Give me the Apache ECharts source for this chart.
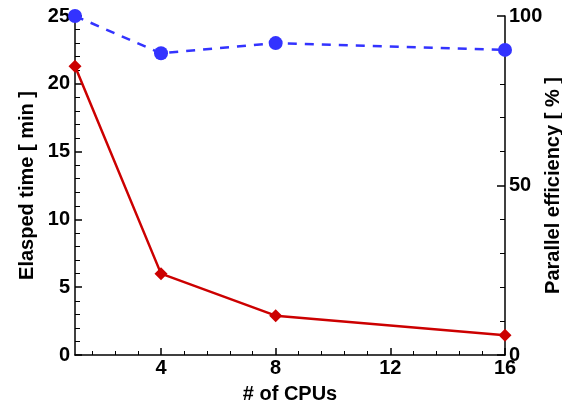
<!DOCTYPE html>
<html>
<head>
<meta charset="utf-8">
<script src="https://cdn.jsdelivr.net/npm/echarts@6/dist/echarts.min.js"></script>
<style>
  html, body { margin: 0; padding: 0; background: #fff; }
  #chart { width: 562px; height: 408px; }
</style>
</head>
<body>
<div id="chart"></div>
<script>
// data
var cpus = [1, 4, 8, 16]
var elapsedMin = [21.3, 6.0, 2.9, 1.45]
var efficiency = [100, 89, 92, 90]
var xTicks = [4, 8, 12, 16]
var xMinorTicks = [1.6, 2.4, 3.2, 4.8, 5.6, 6.4, 7.2, 8.8, 9.6, 10.4, 11.2, 12.8, 13.6, 14.4, 15.2]

var font = 'Liberation Sans'
var axisLine = { show: true, lineStyle: { color: '#000', width: 1.5 } }
var labelStyle = { color: '#000', fontFamily: font, fontWeight: 'bold', fontSize: 20 }
var nameStyle = { color: '#000', fontFamily: font, fontWeight: 'bold', fontSize: 20 }

var chart = echarts.init(document.getElementById('chart'))
chart.setOption({
  animation: false,
  grid: {
    left: 75,
    right: 57,
    top: 16,
    bottom: 53,
    outerBoundsMode: 'none'
  },
  xAxis: [{
    type: 'value',
    min: 1,
    max: 16,
    name: '# of CPUs',
    nameLocation: 'middle',
    nameGap: 29,
    nameMoveOverlap: false,
    nameTextStyle: nameStyle,
    axisLine: axisLine,
    axisTick: { inside: true, length: 7, lineStyle: { color: '#000', width: 1.5 }, customValues: xTicks },
    axisLabel: Object.assign({ margin: 3, customValues: xTicks }, labelStyle),
    splitLine: { show: false }
  }, {
    // minor ticks only
    type: 'value',
    min: 1,
    max: 16,
    position: 'bottom',
    axisLine: { show: false },
    axisTick: { inside: true, length: 4, lineStyle: { color: '#000', width: 1 }, customValues: xMinorTicks },
    axisLabel: { show: false },
    splitLine: { show: false }
  }],
  yAxis: [{
    type: 'value',
    min: 0,
    max: 25,
    interval: 5,
    name: 'Elasped time [ min ]',
    nameLocation: 'middle',
    nameGap: 38,
    nameMoveOverlap: false,
    nameTextStyle: nameStyle,
    axisLine: axisLine,
    axisTick: { inside: true, length: 7, lineStyle: { color: '#000', width: 1.5 } },
    minorTick: { show: true, splitNumber: 5, length: 5, lineStyle: { color: '#000', width: 1 } },
    axisLabel: Object.assign({ margin: 5 }, labelStyle),
    splitLine: { show: false }
  }, {
    type: 'value',
    min: 0,
    max: 100,
    interval: 50,
    position: 'right',
    name: 'Parallel efficiency [ % ]',
    nameLocation: 'middle',
    nameGap: 38,
    nameMoveOverlap: false,
    nameTextStyle: nameStyle,
    axisLine: axisLine,
    axisTick: { inside: true, length: 8, lineStyle: { color: '#000', width: 1.5 } },
    minorTick: { show: true, splitNumber: 5, length: 5, lineStyle: { color: '#000', width: 1 } },
    axisLabel: Object.assign({ margin: 4 }, labelStyle),
    splitLine: { show: false }
  }],
  series: [{
    name: 'Elapsed time',
    type: 'line',
    yAxisIndex: 0,
    data: cpus.map(function (c, i) { return [c, elapsedMin[i]] }),
    symbol: 'diamond',
    symbolSize: 13,
    lineStyle: { color: '#cc0000', width: 2.5 },
    itemStyle: { color: '#cc0000' },
    clip: false
  }, {
    name: 'Parallel efficiency',
    type: 'line',
    yAxisIndex: 1,
    data: cpus.map(function (c, i) { return [c, efficiency[i]] }),
    symbol: 'circle',
    symbolSize: 14,
    lineStyle: { color: '#3333ff', width: 2.5, type: [9, 8] },
    itemStyle: { color: '#3333ff' },
    clip: false
  }]
})
</script>
</body>
</html>
